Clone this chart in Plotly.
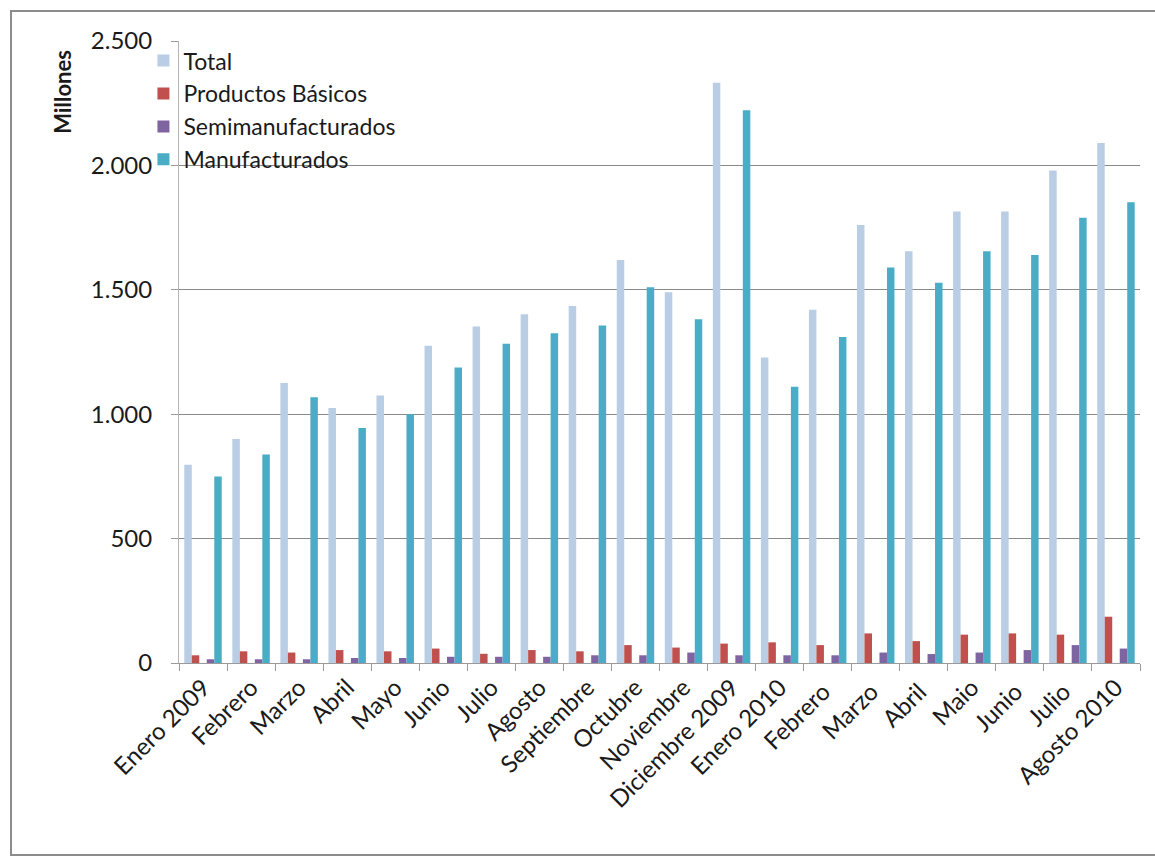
import plotly.graph_objects as go

# Monthly exports, millions
months = [
    "Enero 2009", "Febrero", "Marzo", "Abril", "Mayo", "Junio", "Julio",
    "Agosto", "Septiembre", "Octubre", "Noviembre", "Diciembre 2009",
    "Enero 2010", "Febrero ", "Marzo ", "Abril ", "Maio", "Junio ",
    "Julio ", "Agosto 2010",
]
total = [797, 900, 1125, 1025, 1075, 1275, 1352, 1402, 1435, 1620,
         1490, 2332, 1228, 1420, 1760, 1655, 1815, 1815, 1980, 2090]
productos_basicos = [31, 47, 42, 52, 47, 58, 37, 52, 47, 72,
                     62, 78, 83, 72, 119, 88, 114, 119, 114, 186]
semimanufacturados = [15, 15, 15, 20, 20, 25, 25, 25, 31, 31,
                      42, 31, 31, 31, 42, 36, 42, 52, 72, 58]
manufacturados = [750, 838, 1068, 945, 1000, 1188, 1283, 1325, 1357, 1510,
                  1382, 2222, 1110, 1310, 1590, 1528, 1655, 1640, 1790, 1852]

FONT = "Lato"
TEXT = "#1a1a1a"

# Five slots per month; the middle slot is left empty
slot = 0.156
start = -0.39
series = [
    ("Total", total, "#B9CDE5", 0),
    ("Productos Básicos", productos_basicos, "#C0504D", 1),
    ("Semimanufacturados", semimanufacturados, "#8064A2", 3),
    ("Manufacturados", manufacturados, "#4BACC6", 4),
]

fig = go.Figure()
for name, vals, color, k in series:
    fig.add_trace(go.Bar(
        name=name, x=months, y=vals,
        marker=dict(color=color, line=dict(width=0)),
        width=slot, offset=start + k * slot,
    ))

fig.update_layout(
    width=1155, height=857,
    barmode="overlay",
    separators=",.",
    paper_bgcolor="white", plot_bgcolor="white",
    margin=dict(l=179, r=15, t=41, b=194),
    font=dict(family=FONT, size=24, color=TEXT),
    legend=dict(
        x=-0.037, y=1.003, xanchor="left", yanchor="top",
        bgcolor="rgba(0,0,0,0)", font=dict(size=23, color=TEXT),
        tracegroupgap=0, itemwidth=30,
    ),
    xaxis=dict(
        type="category", tickangle=-45,
        showline=True, linecolor="#9a9a9a", linewidth=1,
        ticks="outside", tickson="boundaries", ticklen=7, tickcolor="#9a9a9a",
        showgrid=False, tickfont=dict(size=24, color=TEXT),
    ),
    yaxis=dict(
        range=[0, 2500], dtick=500, tickformat=",d",
        showline=True, linecolor="#b5b5b5", linewidth=1,
        ticks="outside", ticklen=7, tickcolor="#9a9a9a",
        showgrid=True, gridcolor="#8a8a8a", gridwidth=1,
        zeroline=False, ticklabelstandoff=14,
        tickfont=dict(size=24, color=TEXT),
    ),
    annotations=[dict(
        text="<b>Millones</b>", textangle=-90, showarrow=False,
        xref="paper", yref="paper", x=-0.122, y=0.918,
        xanchor="center", yanchor="middle",
        font=dict(family=FONT, size=22, color=TEXT),
    )],
    shapes=[dict(
        type="rect", xref="paper", yref="paper",
        x0=-0.1748, x1=1.03, y0=-0.3087, y1=1.0482,
        line=dict(color="#8c8c8c", width=2), fillcolor="rgba(0,0,0,0)",
        layer="below",
    )],
)

fig.write_html("out.html")
